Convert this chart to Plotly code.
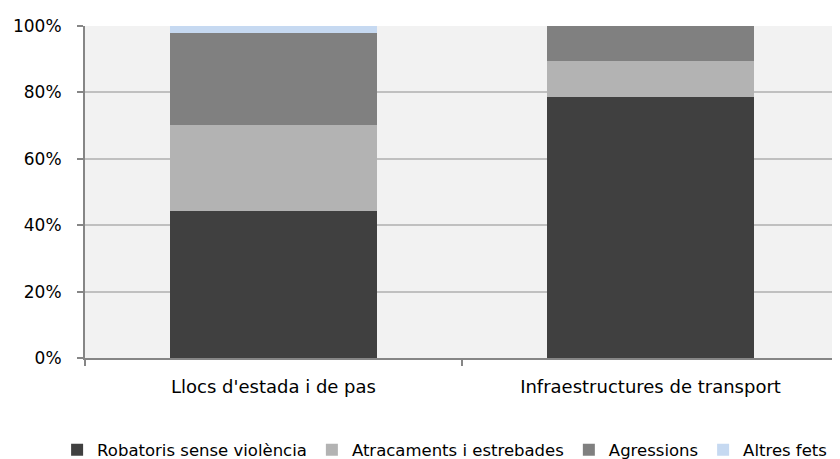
import plotly.graph_objects as go

categories = ["Llocs d'estada i de pas", "Infraestructures de transport"]
series_names = ["Robatoris sense violència", "Atracaments i estrebades", "Agressions", "Altres fets"]
robatoris = [44.2, 78.7]
atracaments = [26.0, 10.8]
agressions = [27.6, 10.5]
altres = [2.2, 0.0]
values = [robatoris, atracaments, agressions, altres]
colors = ["#404040", "#b3b3b3", "#808080", "#c6d9f1"]
y_ticks = [0, 20, 40, 60, 80, 100]
y_tick_labels = ["0%", "20%", "40%", "60%", "80%", "100%"]

FONT = "'DejaVu Sans', sans-serif"

fig = go.Figure()
for name, vals, col in zip(series_names, values, colors):
    fig.add_trace(go.Bar(x=categories, y=vals, name=name, marker=dict(color=col, line=dict(width=0))))

fig.update_layout(
    barmode="stack",
    bargap=0.45,
    width=832, height=451,
    margin=dict(l=77, r=1, t=18, b=101, autoexpand=False),
    paper_bgcolor="white",
    plot_bgcolor="#f2f2f2",
    font=dict(family=FONT, size=17, color="#000000"),
    showlegend=True,
    legend=dict(orientation="h", x=-0.037, xanchor="left", y=-0.277, yanchor="middle",
                font=dict(size=16.5), traceorder="normal", itemwidth=30),
    xaxis=dict(showline=True, linecolor="#868686", linewidth=2, ticks="outside",
               tickcolor="#868686", ticklen=6, tickwidth=2, showgrid=False,
               tickson="boundaries", tickfont=dict(size=18), ticklabelstandoff=11),
    yaxis=dict(range=[0, 100], tickvals=y_ticks, ticktext=y_tick_labels,
               showline=True, linecolor="#868686", linewidth=2, ticks="outside",
               tickcolor="#868686", ticklen=6, tickwidth=2, showgrid=True,
               gridcolor="#c0c0c0", gridwidth=2, zeroline=False, tickfont=dict(size=17),
               ticklabelstandoff=12),
)
fig.write_html("out.html")
